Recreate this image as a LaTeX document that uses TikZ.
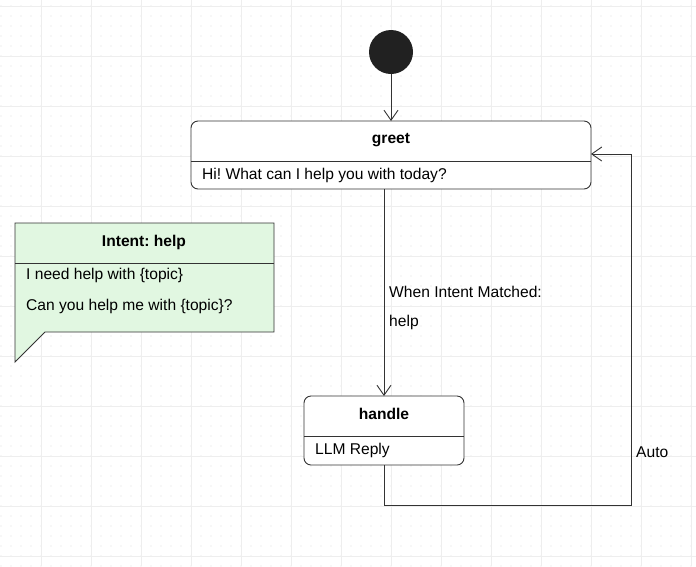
\documentclass[tikz,border=0pt]{standalone}
\usepackage{fontspec}
\setmainfont{Liberation Sans}
\usetikzlibrary{arrows.meta}
\definecolor{gridc}{HTML}{EEEEEE}
\definecolor{dotc}{HTML}{E0E0E0}
\definecolor{edge}{HTML}{333333}
\definecolor{notefill}{HTML}{E1F7E1}
\begin{document}
\frenchspacing
\begin{tikzpicture}[x=1pt,y=-1pt,
  txt/.style={font=\fontsize{15.6}{18}\selectfont,text=black,inner sep=0pt},
  ttl/.style={txt,font=\fontsize{15.6}{18}\selectfont\bfseries},
  st/.style={draw=edge,line width=0.9pt,fill=white,rounded corners=7pt},
  con/.style={draw=edge,line width=0.9pt,-{Straight Barb[length=10pt,width=14pt,line width=0.9pt]}}]
\useasboundingbox (0,0) rectangle (696,566);
\fill[white] (0,0) rectangle (696,566);
\foreach \i in {0,...,69} \foreach \j in {0,...,56} {\fill[dotc] (\i*10+1,\j*10+6) circle (0.7);}
\foreach \x in {41,91,...,691} \draw[gridc,line width=0.8pt] (\x,0) -- (\x,566);
\foreach \y in {6,56,...,566} \draw[gridc,line width=0.8pt] (0,\y) -- (696,\y);
% initial
\node[circle,fill=black!87,minimum size=44pt,inner sep=0pt] (init) at (391,52) {};
% greet
\path[st] (191,121) rectangle (591,189);
\draw[edge,line width=0.9pt] (191,161) -- (591,161);
\coordinate (greetTop) at (391,121);
\coordinate (greetRight) at (591,154);
\coordinate (greetBot) at (384,189);
\node[ttl] (gt) at (391,140) {greet};
\node[txt,anchor=west] (gb) at (202,175) {Hi! What can I help you with today?};
% handle
\path[st] (304,396) rectangle (464,465);
\draw[edge,line width=0.9pt] (304,436) -- (464,436);
\coordinate (handleTop) at (384,396);
\coordinate (handleBot) at (384,465);
\node[ttl] (ht) at (384,414) {handle};
\node[txt,anchor=west] (hb) at (315,450) {LLM Reply};
% note
\path[draw=edge,line width=0.9pt,fill=notefill] (15,223) -- (274,223) -- (274,332) -- (45,332) -- (15,362) -- (15,223) -- cycle;
\draw[edge,line width=0.9pt] (15,263) -- (274,263);
\node[ttl] (nt) at (144,242) {Intent: help};
\node[txt,anchor=west] (n1) at (26,275) {I need help with \{topic\}};
\node[txt,anchor=west] (n2) at (26,306) {Can you help me with \{topic\}?};
% connectors
\draw[con] (init.south) -- (greetTop);
\draw[con] (greetBot) -- (handleTop);
\node[txt,anchor=west] (l1) at (389,292) {When Intent Matched:};
\node[txt,anchor=west] (l2) at (389,322) {help};
\draw[con] (handleBot) -- (384,505) -- (631,505) -- (631,154) -- (greetRight);
\node[txt,anchor=west] (l3) at (636,452) {Auto};
\end{tikzpicture}
\end{document}
